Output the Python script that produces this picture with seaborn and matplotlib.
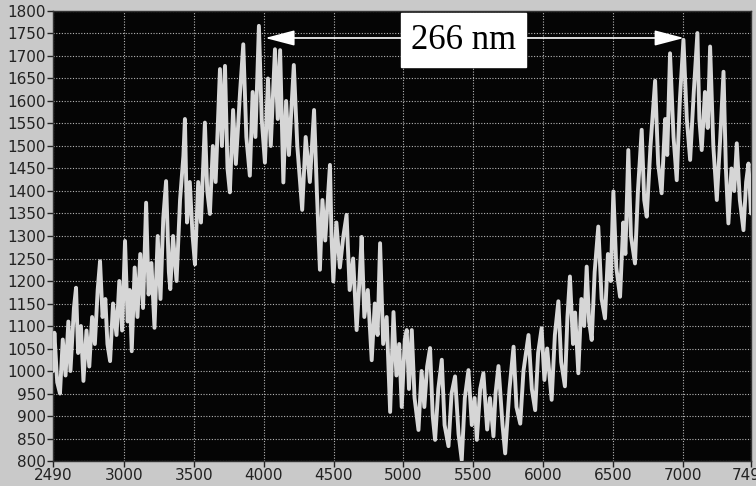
import numpy as np
import pandas as pd
import seaborn as sns
import matplotlib.pyplot as plt

# Peak / trough readings of the noisy fringe trace
wavelength = [
    2490, 2500, 2520, 2540, 2560, 2580, 2600, 2615, 2640, 2655, 2670, 2690, 2708, 2730, 2750,
    2770, 2790, 2810, 2827, 2845, 2865, 2880, 2899, 2920, 2945, 2965, 2985, 3006, 3025, 3040,
    3054, 3075, 3095, 3115, 3135, 3157, 3175, 3195, 3217, 3240, 3260, 3280, 3300, 3320, 3330,
    3350, 3375, 3400, 3424, 3435, 3450, 3470, 3490, 3507, 3530, 3550, 3578, 3595, 3614, 3635,
    3655, 3686, 3700, 3722, 3740, 3757, 3780, 3800, 3830, 3853, 3875, 3900, 3920, 3940, 3965,
    3985, 4008, 4030, 4050, 4080, 4100, 4117, 4140, 4160, 4180, 4215, 4240, 4275, 4300, 4330,
    4360, 4380, 4402, 4420, 4440, 4474, 4485, 4498, 4520, 4545, 4570, 4593, 4615, 4640, 4665,
    4685, 4701, 4720, 4745, 4773, 4795, 4815, 4833, 4855, 4880, 4905, 4929, 4950, 4970, 4988,
    5010, 5024, 5040, 5060, 5080, 5108, 5130, 5150, 5170, 5191, 5210, 5227, 5250, 5275, 5295,
    5323, 5345, 5370, 5395, 5418, 5440, 5466, 5490, 5510, 5526, 5550, 5573, 5600, 5620, 5645,
    5660, 5681, 5710, 5729, 5760, 5789, 5810, 5837, 5860, 5896, 5920, 5944, 5965, 5990, 6010,
    6030, 6062, 6085, 6110, 6130, 6157, 6175, 6193, 6215, 6230, 6253, 6275, 6295, 6313, 6330,
    6349, 6370, 6396, 6420, 6444, 6465, 6485, 6504, 6525, 6552, 6575, 6590, 6611, 6630, 6659,
    6680, 6707, 6725, 6743, 6770, 6803, 6825, 6850, 6875, 6890, 6910, 6935, 6958, 6980, 7006,
    7030, 7054, 7080, 7106, 7120, 7137, 7160, 7180, 7197, 7220, 7245, 7270, 7293, 7310, 7328,
    7350, 7370, 7388, 7410, 7436, 7455, 7472, 7490,
]
counts = [
    1000, 1085, 975, 950, 1070, 990, 1110, 1000, 1140, 1185, 1040, 1100, 978, 1090, 1010,
    1120, 1060, 1180, 1244, 1120, 1160, 1060, 1022, 1150, 1080, 1200, 1090, 1289, 1110, 1180,
    1044, 1230, 1120, 1260, 1140, 1374, 1170, 1240, 1096, 1300, 1160, 1340, 1422, 1220, 1182,
    1300, 1200, 1380, 1478, 1560, 1330, 1420, 1300, 1237, 1420, 1330, 1552, 1400, 1349, 1500,
    1420, 1671, 1500, 1678, 1450, 1397, 1580, 1460, 1620, 1726, 1520, 1434, 1620, 1520, 1767,
    1560, 1463, 1650, 1500, 1715, 1560, 1713, 1419, 1600, 1480, 1680, 1500, 1358, 1520, 1420,
    1580, 1400, 1225, 1380, 1290, 1458, 1300, 1199, 1330, 1230, 1300, 1347, 1180, 1250, 1091,
    1200, 1298, 1120, 1180, 1024, 1150, 1080, 1284, 1060, 1120, 909, 1131, 990, 1060, 920,
    1070, 1091, 960, 1091, 940, 869, 1000, 920, 1010, 1051, 900, 847, 960, 1025, 880,
    833, 950, 988, 860, 802, 940, 1002, 880, 940, 847, 960, 995, 870, 940, 855,
    950, 1011, 880, 817, 960, 1054, 920, 883, 1000, 1080, 960, 913, 1040, 1095, 980,
    1050, 936, 1080, 1155, 1020, 966, 1120, 1210, 1060, 1130, 995, 1160, 1100, 1232, 1110,
    1069, 1220, 1321, 1160, 1117, 1260, 1200, 1399, 1230, 1165, 1330, 1260, 1491, 1300, 1239,
    1400, 1536, 1380, 1343, 1500, 1645, 1460, 1395, 1560, 1480, 1706, 1520, 1424, 1600, 1736,
    1560, 1469, 1620, 1751, 1560, 1491, 1620, 1540, 1721, 1500, 1380, 1520, 1665, 1450, 1328,
    1450, 1400, 1506, 1380, 1313, 1420, 1461, 1350,
]

x_ticks = [2490, 3000, 3500, 4000, 4500, 5000, 5500, 6000, 6500, 7000, 7490]
y_ticks = list(range(800, 1801, 50))

# fringe spacing annotation
arrow_left, arrow_right, arrow_level = 4010, 7010, 1740
label_text = "266 nm"

df = pd.DataFrame({"wavelength": wavelength, "counts": counts})

sns.set_style("dark")
plt.rcParams['font.family'] = ['Liberation Sans Narrow', 'DejaVu Sans']

fig = plt.figure(figsize=(7.56, 4.86), dpi=100, facecolor='#c9c9c9')
ax = fig.add_axes([0.0701, 0.0514, 0.9233, 0.9260])
ax.set_facecolor('#050505')

sns.lineplot(data=df, x="wavelength", y="counts", ax=ax, color='#d6d6d6',
             lw=2.8, sort=False, zorder=3)

ax.set_xlim(2490, 7490)
ax.set_ylim(800, 1800)
ax.set_xticks(x_ticks)
ax.set_yticks(y_ticks)
ax.set_xlabel("")
ax.set_ylabel("")
ax.grid(True, color='#b5b5b5', linestyle=(0, (1, 1.5)), lw=0.8, zorder=1)
ax.tick_params(axis='both', colors='#222222', labelsize=11, length=4,
               width=1, direction='out', pad=1, bottom=True, left=True)
for sp in ax.spines.values():
    sp.set_color('#333333')
    sp.set_linewidth(1)

ax.annotate("", xy=(arrow_left, arrow_level), xytext=(arrow_right, arrow_level),
            arrowprops=dict(arrowstyle='<|-|>,head_length=0.65,head_width=0.17',
                            color='white', lw=1.2, mutation_scale=28,
                            shrinkA=0, shrinkB=0), zorder=5)
ax.text((arrow_left + arrow_right) / 2 - 80, arrow_level - 5, label_text,
        family=['Liberation Serif', 'DejaVu Serif'], fontsize=25, color='black',
        ha='center', va='center', zorder=6,
        bbox=dict(boxstyle='square,pad=0.3', fc='white', ec='white'))

fig.savefig("out.png", dpi=100, facecolor=fig.get_facecolor())
